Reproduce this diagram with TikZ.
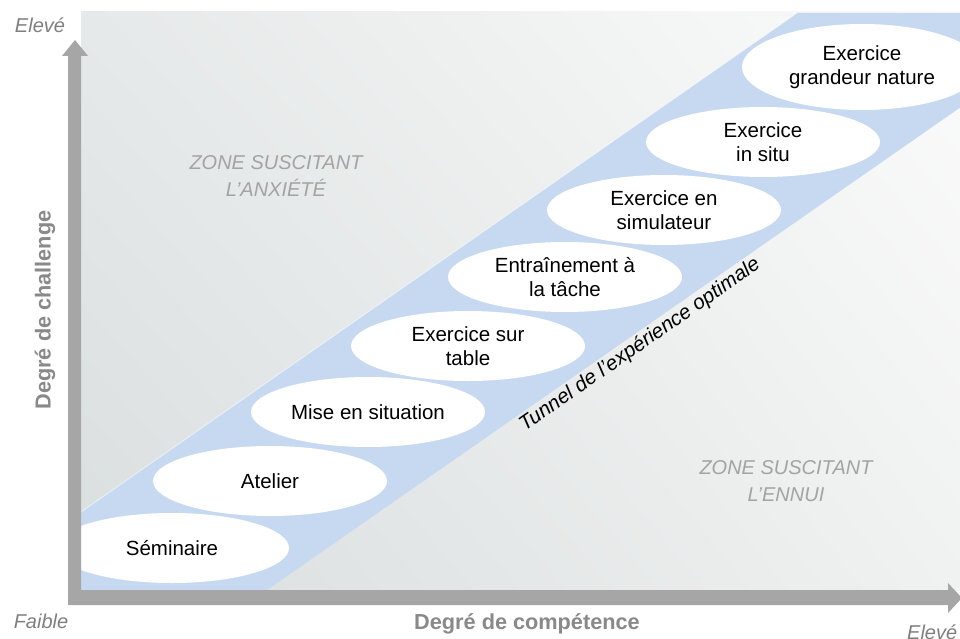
\documentclass[tikz,border=0pt]{standalone}
\usepackage{fontspec}
\setmainfont{Liberation Sans}
\usetikzlibrary{shapes.geometric,shadings}
\definecolor{axisgray}{HTML}{A6A6A6}
\definecolor{titlegray}{HTML}{898989}
\definecolor{endgray}{HTML}{7F7F7F}
\definecolor{zonegray}{HTML}{A3A3A3}
\definecolor{tunnelblue}{HTML}{C6D9F1}
\definecolor{bgUL}{HTML}{E6E9E9}
\definecolor{bgUR}{HTML}{FBFBFB}
\definecolor{bgLL}{HTML}{D9DEDE}
\definecolor{bgLR}{HTML}{F0F1F1}
\tikzset{
  stagebox/.style={ellipse, fill=white, inner sep=0pt, minimum width=234pt, minimum height=70pt,
    align=center, text=black, font=\fontsize{20.5}{24}\selectfont},
  zonetext/.style={inner sep=0pt, align=center, text=zonegray, font=\fontsize{20}{27}\selectfont\itshape},
  endtext/.style={inner sep=0pt, text=endgray, font=\fontsize{20}{24}\selectfont\itshape},
  axistitle/.style={inner sep=0pt, text=titlegray, font=\fontsize{21.7}{26}\selectfont\bfseries},
}
\begin{document}
\begin{tikzpicture}[x=1pt,y=-1pt]
\useasboundingbox (0,0) rectangle (960,639);
\fill[white] (0,0) rectangle (960,639);
% plot background
\shade[upper left=bgUL, upper right=bgUR, lower left=bgLL, lower right=bgLR] (81,12) rectangle (960,590);
\begin{scope}
  \clip (81,12) rectangle (960,590);
  % tunnel band
  \fill[tunnelblue] (-31,590) -- (797,13) -- (1096,13) -- (267,590) -- cycle;
  \draw[white, opacity=0.6, line width=0.8pt] (-31,590) -- (797,13);
  % stages
  \node[stagebox] (e1) at (172,548) {Séminaire};
  \node[stagebox] (e2) at (270,481) {Atelier};
  \node[stagebox] (e3) at (368,412) {Mise en situation};
  \node[stagebox] (e4) at (468,346) {Exercice sur\\table};
  \node[stagebox] (e5) at (565,277) {Entraînement à\\la tâche};
  \node[stagebox] (e6) at (664,210) {Exercice en\\simulateur};
  \node[stagebox] (e7) at (763,142) {Exercice\\in situ};
  \node[stagebox, minimum width=240pt, minimum height=86pt] (e8) at (862,67) {Exercice\\grandeur nature};
\end{scope}
% tunnel label
\node[inner sep=0pt, rotate=34.8, text=black, font=\fontsize{20.5}{24}\selectfont\itshape] (tun) at (640,345) {Tunnel de l’expérience optimale};
% zone labels
\node[zonetext] (za) at (276,176) {ZONE SUSCITANT\\L’ANXIÉTÉ};
\node[zonetext] (zb) at (786,481) {ZONE SUSCITANT\\L’ENNUI};
% axes
\coordinate (o) at (68,605);
\fill[axisgray] (68,605) -- (68,56) -- (62,56) -- (75,40) -- (88,56) -- (81,56) -- (81,590) -- (948,590) -- (948,583) -- (962,598) -- (948,613) -- (948,605) -- cycle;
% axis texts
\node[axistitle, rotate=90] (ya) at (45,310) {Degré de challenge};
\node[axistitle] (xa) at (527,624) {Degré de compétence};
\node[endtext] (lo) at (41,621) {Faible};
\node[endtext] (hiy) at (40,25) {Elevé};
\node[endtext, anchor=west] (hix) at (907,632) {Elevé};
\end{tikzpicture}
\end{document}
